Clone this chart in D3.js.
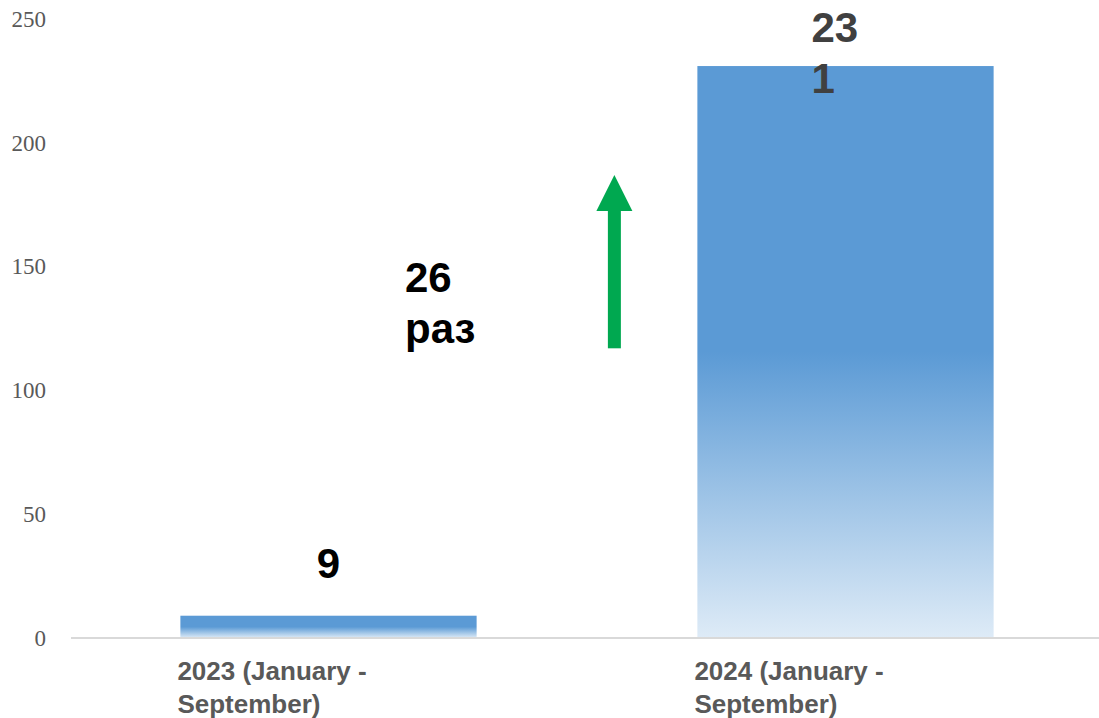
<!DOCTYPE html>
<html>
<head>
<meta charset="utf-8">
<script src="https://cdn.jsdelivr.net/npm/d3@7"></script>
<style>
  body { margin: 0; background: #fff; }
</style>
</head>
<body>
<script>
// dati
const categories = ["2023", "2024"];
const categoryLines = [["2023 (January -", "September)"], ["2024 (January -", "September)"]];
const values = [9, 231];
const valueLines = [["9"], ["23", "1"]];
const yTicks = [0, 50, 100, 150, 200, 250];
const growthLines = ["26", "раз"];
const arrowFrom = 117;
const arrowTo = 187;

const width = 1099;
const height = 718;

const svg = d3.select("body")
  .append("svg")
  .attr("width", width)
  .attr("height", height);

const x = d3.scaleBand()
  .domain(categories)
  .range([70, 1104])
  .paddingInner(0.427)
  .paddingOuter(0.2135);

const y = d3.scaleLinear()
  .domain([0, 250])
  .range([638, 19]);

// gradiente barre
const grad = svg.append("defs")
  .append("linearGradient")
  .attr("id", "barGrad")
  .attr("x1", 0).attr("y1", 0)
  .attr("x2", 0).attr("y2", 1);
grad.append("stop").attr("offset", "0%").attr("stop-color", "#5B9AD5");
grad.append("stop").attr("offset", "50%").attr("stop-color", "#5B9AD5");
grad.append("stop").attr("offset", "75%").attr("stop-color", "#9DC3E6");
grad.append("stop").attr("offset", "100%").attr("stop-color", "#DEEBF7");

// asse y
const yAxis = svg.append("g")
  .attr("transform", "translate(46,0)")
  .call(d3.axisLeft(y).tickValues(yTicks).tickSize(0).tickPadding(0));
yAxis.select(".domain").remove();
yAxis.selectAll("text")
  .style("font-family", "'Liberation Serif', 'Times New Roman', serif")
  .style("font-size", "23px")
  .attr("fill", "#595959");

// barre
svg.selectAll("rect.bar")
  .data(values)
  .join("rect")
  .attr("class", "bar")
  .attr("x", (d, i) => x(categories[i]))
  .attr("y", (d) => y(d))
  .attr("width", x.bandwidth())
  .attr("height", (d) => y(0) - y(d))
  .attr("fill", "url(#barGrad)");

// linea base
svg.append("line")
  .attr("x1", 71)
  .attr("x2", width)
  .attr("y1", y(0))
  .attr("y2", y(0))
  .attr("stroke", "#D9D9D9")
  .attr("stroke-width", 2);

// etichette categorie
svg.selectAll("text.cat")
  .data(categoryLines)
  .join("text")
  .attr("class", "cat")
  .attr("x", (d, i) => x(categories[i]) - 3)
  .attr("y", 680)
  .style("font-family", "Arial, 'Liberation Sans', sans-serif")
  .style("font-size", "26px")
  .style("font-weight", "bold")
  .attr("fill", "#595959")
  .selectAll("tspan")
  .data((d) => d)
  .join("tspan")
  .attr("x", function () { return d3.select(this.parentNode).attr("x"); })
  .attr("dy", (d, j) => (j === 0 ? 0 : 33))
  .text((d) => d);

// etichette valori
const labelColors = ["#000000", "#404040"];
const labelBase = [578, 42];
svg.selectAll("text.val")
  .data(valueLines)
  .join("text")
  .attr("class", "val")
  .attr("text-anchor", (d, i) => (i === 1 ? "start" : "middle"))
  .attr("y", (d, i) => labelBase[i])
  .style("font-family", "Arial, 'Liberation Sans', sans-serif")
  .style("font-size", "42px")
  .style("font-weight", "bold")
  .attr("fill", (d, i) => labelColors[i])
  .each(function (d, i) {
    const cx = i === 1
      ? x(categories[i]) + x.bandwidth() / 2 - 34
      : x(categories[i]) + x.bandwidth() / 2;
    d3.select(this)
      .selectAll("tspan")
      .data(d)
      .join("tspan")
      .attr("x", cx)
      .attr("dy", (t, j) => (j === 0 ? 0 : 51))
      .text((t) => t);
  });

// testo crescita
svg.append("text")
  .attr("y", 292)
  .style("font-family", "Arial, 'Liberation Sans', sans-serif")
  .style("font-size", "42px")
  .style("font-weight", "bold")
  .attr("fill", "#000")
  .selectAll("tspan")
  .data(growthLines)
  .join("tspan")
  .attr("x", 405)
  .attr("dy", (d, j) => (j === 0 ? 0 : 51))
  .text((d) => d);

// freccia verde
const ax = x(categories[1]) - 83;
const headBase = y(arrowTo) + 36;
svg.append("rect")
  .attr("x", ax - 6.5)
  .attr("y", headBase - 1)
  .attr("width", 13)
  .attr("height", y(arrowFrom) - headBase + 1)
  .attr("fill", "#00A850");
svg.append("path")
  .attr("d", `M${ax},${y(arrowTo)} L${ax + 18},${headBase} L${ax - 18},${headBase} Z`)
  .attr("fill", "#00A850");
</script>
</body>
</html>
